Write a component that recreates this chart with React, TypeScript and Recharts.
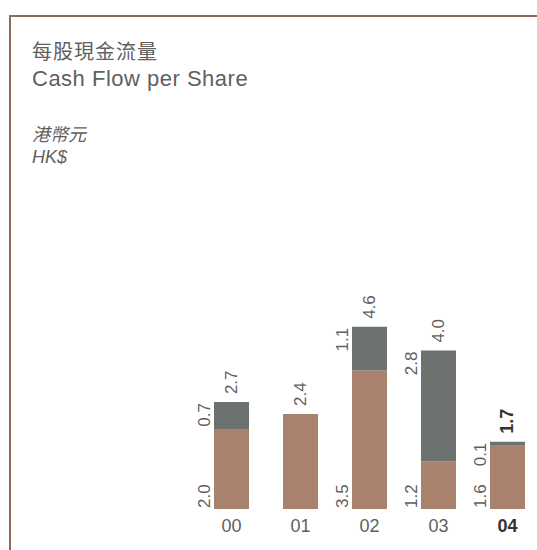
import React from 'react';
import { BarChart, Bar, XAxis, YAxis, LabelList } from 'recharts';

const years = ['00', '01', '02', '03', '04'];
const operating = [2.0, 2.4, 3.5, 1.2, 1.6];
const other = [0.7, 0, 1.1, 2.8, 0.1];
const totals = [2.7, 2.4, 4.6, 4.0, 1.7];

const BROWN = '#a8826c';
const GREY = '#6d7270';
const TEXT = '#5f5f5f';
const LINE = '#8d6c5d';
const FONT = '"Liberation Sans", Arial, "Noto Sans CJK TC", sans-serif';
const LAST = years.length - 1;
const BOLD_TOTAL = totals[LAST].toFixed(1);

const data = years.map((year, i) => ({
  year,
  operating: operating[i],
  other: other[i],
  opLabel: other[i] > 0 ? operating[i].toFixed(1) : null,
  otherLabel: other[i] > 0 ? other[i].toFixed(1) : null,
  // total sits on the top-most visible segment
  totalOnOp: other[i] > 0 ? null : totals[i].toFixed(1),
  totalOnOther: other[i] > 0 ? totals[i].toFixed(1) : null,
}));

const SideLabel = (anchor: 'start' | 'end', atBottom: boolean) => (props: any) => {
  const { x, y, height, value } = props;
  if (value === null || value === undefined) return null;
  const lx = Number(x) - 4;
  const ly = atBottom ? Number(y) + Number(height) - 1 : Number(y) + 1;
  return (
    <text
      x={lx}
      y={ly}
      transform={`rotate(-90, ${lx}, ${ly})`}
      textAnchor={anchor}
      fontSize={17}
      fill={TEXT}
      fontFamily={FONT}
    >
      {value}
    </text>
  );
};

const TotalLabel = (props: any) => {
  const { x, y, width, value } = props;
  if (value === null || value === undefined) return null;
  const lx = Number(x) + Number(width) / 2 + 6;
  const ly = Number(y) - 8;
  const bold = value === BOLD_TOTAL;
  return (
    <text
      x={lx}
      y={ly}
      transform={`rotate(-90, ${lx}, ${ly})`}
      textAnchor="start"
      fontSize={bold ? 18 : 17}
      fontWeight={bold ? 'bold' : 'normal'}
      fill={bold ? '#333' : TEXT}
      fontFamily={FONT}
    >
      {value}
    </text>
  );
};

const YearTick = (props: any) => {
  const { x, y, payload } = props;
  const bold = payload.value === years[LAST];
  return (
    <text
      x={x}
      y={Number(y) + 15}
      textAnchor="middle"
      fontSize={18}
      fontWeight={bold ? 'bold' : 'normal'}
      fill={bold ? '#333' : TEXT}
      fontFamily={FONT}
    >
      {payload.value}
    </text>
  );
};

export default function App() {
  return (
    <div style={{ position: 'absolute', left: 0, top: 0, width: 537, height: 550, overflow: 'hidden', background: '#fff', fontFamily: FONT }}>
      <div style={{ position: 'absolute', left: 9, top: 15, width: 1.5, height: 540, background: LINE }} />
      <div style={{ position: 'absolute', left: 9, top: 15, width: 540, height: 1.5, background: LINE }} />
      <div style={{ position: 'absolute', left: 32, top: 36, fontSize: 20, color: TEXT, letterSpacing: 1 }}>每股現金流量</div>
      <div style={{ position: 'absolute', left: 32, top: 66, fontSize: 22, color: TEXT, letterSpacing: 0.5 }}>Cash Flow per Share</div>
      <div style={{ position: 'absolute', left: 32, top: 120, fontSize: 18, color: TEXT, fontStyle: 'italic' }}>港幣元</div>
      <div style={{ position: 'absolute', left: 32, top: 147, fontSize: 18, color: TEXT, fontStyle: 'italic' }}>HK$</div>
      <div style={{ position: 'absolute', left: 0, top: 0 }}>
        <BarChart width={545} height={550} data={data} margin={{ top: 311, right: 3, bottom: 11, left: 197 }} barSize={35}>
          <XAxis dataKey="year" height={30} axisLine={false} tickLine={false} tick={<YearTick />} interval={0} />
          <YAxis hide domain={[0, 5]} />
          <Bar dataKey="operating" stackId="a" fill={BROWN} isAnimationActive={false}>
            <LabelList dataKey="opLabel" content={SideLabel('start', true)} />
            <LabelList dataKey="totalOnOp" content={TotalLabel} />
          </Bar>
          <Bar dataKey="other" stackId="a" fill={GREY} isAnimationActive={false}>
            <LabelList dataKey="otherLabel" content={SideLabel('end', false)} />
            <LabelList dataKey="totalOnOther" content={TotalLabel} />
          </Bar>
        </BarChart>
      </div>
    </div>
  );
}
